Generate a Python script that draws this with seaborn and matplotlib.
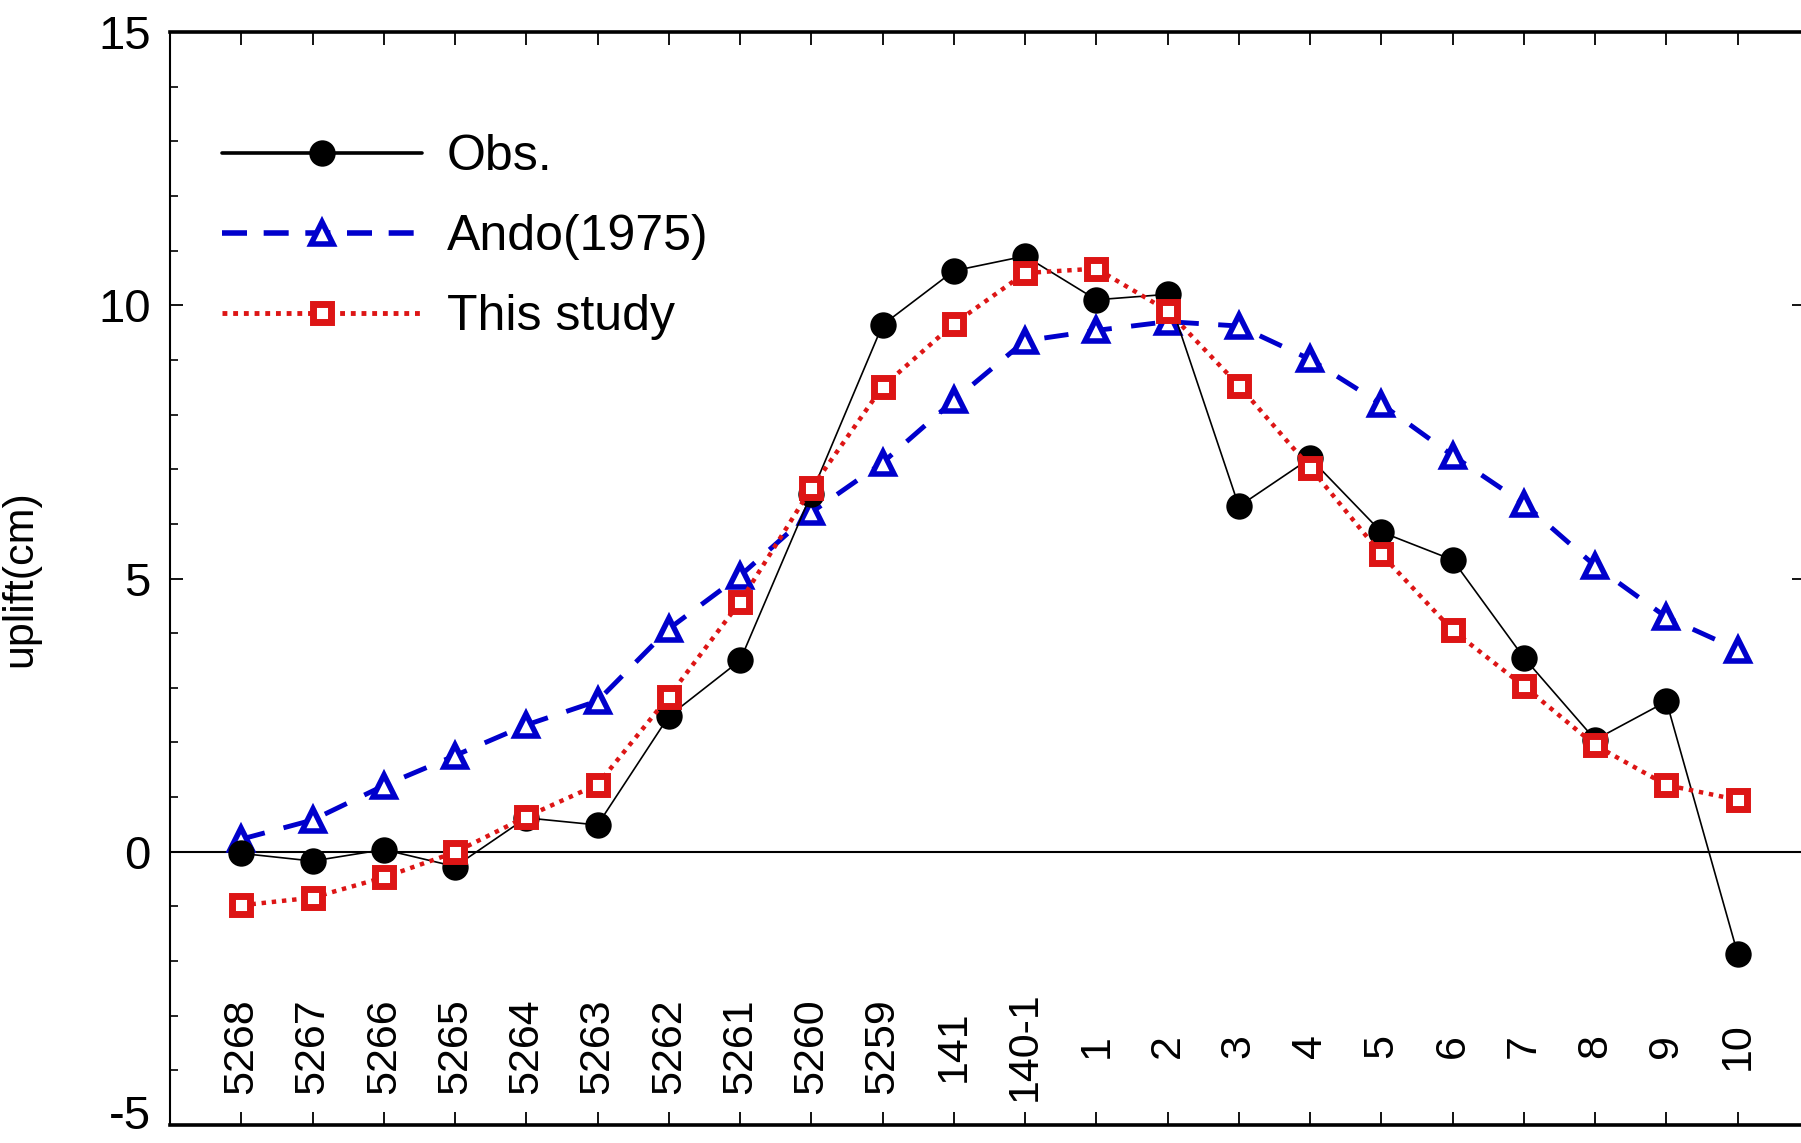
import numpy as np
import pandas as pd
import matplotlib
matplotlib.use("Agg")
import matplotlib.pyplot as plt
import matplotlib.transforms as mtransforms
from matplotlib.lines import Line2D
from matplotlib.ticker import MultipleLocator
import seaborn as sns

# ---------------- data ----------------
stations = ["5268", "5267", "5266", "5265", "5264", "5263", "5262", "5261", "5260",
            "5259", "141", "140-1", "1", "2", "3", "4", "5", "6", "7", "8", "9", "10"]
obs = [-0.03, -0.17, 0.04, -0.27, 0.62, 0.49, 2.48, 3.50, 6.55, 9.64, 10.63, 10.90,
       10.10, 10.20, 6.32, 7.20, 5.85, 5.34, 3.55, 2.05, 2.75, -1.87]
ando = [0.23, 0.58, 1.21, 1.76, 2.32, 2.76, 4.08, 5.05, 6.21, 7.12, 8.26, 9.35,
        9.54, 9.70, 9.62, 9.01, 8.19, 7.25, 6.37, 5.23, 4.29, 3.70]
this_study = [-0.98, -0.84, -0.47, -0.01, 0.64, 1.23, 2.84, 4.57, 6.65, 8.51, 9.66, 10.59,
              10.67, 9.90, 8.53, 7.03, 5.44, 4.05, 3.03, 1.95, 1.22, 0.95]
series_names = ["Obs.", "Ando(1975)", "This study"]
y_label = "uplift(cm)"
y_ticks = [-5, 0, 5, 10, 15]

df = pd.DataFrame({"pos": np.arange(len(stations)), "station": stations,
                   series_names[0]: obs, series_names[1]: ando, series_names[2]: this_study})

# ---------------- style ----------------
sns.set_style("white")
plt.rcParams["font.family"] = ["Liberation Sans", "DejaVu Sans"]
for k in ["text.color", "axes.labelcolor", "xtick.color", "ytick.color", "axes.edgecolor"]:
    plt.rcParams[k] = "black"

BLUE = "#0000cc"
RED = "#dd1515"

fig = plt.figure(figsize=(18.01, 11.43), dpi=100)
W, H = 1801, 1143
left_px, right_px, top_px, bot_px = 170, 1804, 32, 1125
ax = fig.add_axes([left_px / W, (H - bot_px) / H, (right_px - left_px) / W, (bot_px - top_px) / H])
ax.set_facecolor("white")

ax.axhline(0, color="black", lw=1.5, zorder=1)

sns.lineplot(data=df, x="pos", y=series_names[1], ax=ax, color=BLUE, lw=3.5,
             linestyle=(0, (5, 4)), marker="^", ms=16, mfc="white", mec=BLUE, mew=4,
             sort=False, estimator=None, zorder=3)
sns.lineplot(data=df, x="pos", y=series_names[0], ax=ax, color="black", lw=1.2,
             marker="o", ms=19, mfc="black", mec="black", mew=0,
             sort=False, estimator=None, zorder=4)
sns.lineplot(data=df, x="pos", y=series_names[2], ax=ax, color=RED, lw=3.2,
             linestyle=(0, (1, 1.3)), marker="s", ms=13, mfc="white", mec=RED, mew=5,
             sort=False, estimator=None, zorder=5)

ax.set_xlim(-1, 21.93)
ax.set_ylim(-5, 15)
ax.set_yticks(y_ticks)
ax.set_yticklabels([str(t) for t in y_ticks])
ax.yaxis.set_minor_locator(MultipleLocator(1))
ax.set_xticks(df["pos"])
ax.set_xticklabels([])
ax.set_xlabel("")
ax.set_ylabel(y_label, fontsize=31, color="black")
ax.yaxis.set_label_coords((40 - left_px) / (right_px - left_px), 0.5)

ax.tick_params(axis="y", which="major", direction="in", length=9, width=1.3,
               left=True, right=True, labelsize=34, pad=14, colors="black")
ax.tick_params(axis="y", which="minor", direction="in", length=6, width=1.2,
               left=True, right=False)
ax.tick_params(axis="x", which="major", direction="in", length=9.5, width=1.3,
               bottom=True, top=True)

# nudge the bottom "-5" label slightly up so it stays inside the picture
for lab in ax.get_yticklabels():
    if lab.get_text() == "-5":
        lab.set_transform(lab.get_transform() + mtransforms.ScaledTranslation(0, 13 / 100, fig.dpi_scale_trans))

for side, lw in [("top", 2.6), ("bottom", 2.6), ("left", 1.5), ("right", 1.5)]:
    ax.spines[side].set_visible(True)
    ax.spines[side].set_color("black")
    ax.spines[side].set_linewidth(lw)

# station labels inside the axes, rotated
trans = mtransforms.blended_transform_factory(ax.transData, ax.transAxes)
for pos, st in zip(df["pos"], df["station"]):
    ax.text(pos, (bot_px - 1046) / (bot_px - top_px), st, transform=trans,
            rotation=90, ha="center", va="center", fontsize=31, color="black")

handles = [
    Line2D([], [], color="black", lw=2.6, marker="o", ms=19, mfc="black", mec="black", mew=0),
    Line2D([], [], color=BLUE, lw=4, linestyle=(0, (4.5, 3)), marker="^", ms=16,
           mfc="white", mec=BLUE, mew=4),
    Line2D([], [], color=RED, lw=3.5, linestyle=(0, (1, 1.2)), marker="s", ms=13,
           mfc="white", mec=RED, mew=5),
]
ax.legend(handles, series_names, loc="upper left",
          bbox_to_anchor=((222 - left_px) / (right_px - left_px), (bot_px - 134) / (bot_px - top_px)),
          frameon=False, fontsize=36, handlelength=4.0, handletextpad=0.5,
          labelspacing=0.68, borderpad=0, borderaxespad=0, numpoints=1)

fig.savefig("out.png", dpi=100, facecolor="white")
